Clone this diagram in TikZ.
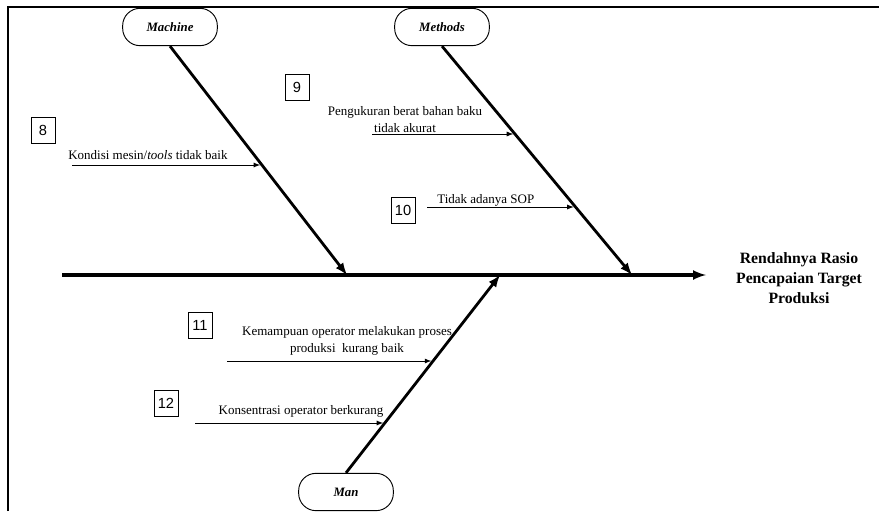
\documentclass[tikz,border=0pt]{standalone}
\usepackage{fontspec}
\setmainfont{Liberation Serif}
\newfontfamily\numfont{Liberation Sans}
\tikzset{
  >=latex,
}
\tikzstyle{frame}=[line width=1.5pt]
\tikzstyle{spine}=[line width=2.3pt,->]
\tikzstyle{bone}=[line width=2.1pt,->]
\tikzstyle{cause}=[line width=0.7pt,->,shorten >=1.5pt]
\tikzstyle{category}=[draw,line width=0.7pt,rounded corners=13pt,minimum width=71pt,minimum height=28pt,font=\fontsize{9.6}{11}\selectfont\bfseries\itshape]
\tikzstyle{numbox}=[draw,line width=0.6pt,minimum width=18pt,minimum height=19.5pt,inner sep=2pt,font=\numfont\fontsize{11}{13}\selectfont]
\tikzstyle{causetext}=[inner sep=0pt,align=center,font=\fontsize{9.75}{12.5}\selectfont]
\tikzstyle{effect}=[align=center,font=\fontsize{11.8}{15}\selectfont\bfseries]

\begin{document}
\begin{tikzpicture}[x=0.75pt,y=-0.75pt]
  \useasboundingbox (0,0) rectangle (879,511);
  \draw[frame] (8,511) -- (8,7) -- (879,7);
  % head and categories
  \node[category] (machine) at (170,27) {Machine};
  \node[category] (methods) at (442,27) {Methods};
  \node[category] (man) at (346,492) {Man};
  \node[effect] (effect) at (799,278) {Rendahnya Rasio\\Pencapaian Target\\Produksi};
  \coordinate (tail) at (62,275);
  \coordinate (head) at (706,275);
  \coordinate (j1) at (347,275);
  \coordinate (j2) at (632,275);
  \coordinate (j3) at (500,275);
  \draw[spine] (tail) -- (head);
  \draw[bone] (machine.south) -- (j1) coordinate[pos=.5207] (c8);
  \draw[bone] (methods.south) -- (j2) coordinate[pos=.3856] (c9)
    coordinate[pos=.7037] (c10);
  \draw[bone] (man.north) -- (j3) coordinate[pos=.5668] (c11)
    coordinate[pos=.2544] (c12);
  % causes
  \node[numbox] (b8) at (43,130) {8};
  \node[numbox] (b9) at (297,87) {9};
  \node[numbox] (b10) at (403,210) {10};
  \node[numbox] (b11) at (200,325) {11};
  \node[numbox] (b12) at (166,403) {12};
  \coordinate (s8) at (72,165);
  \coordinate (s9) at (372,134);
  \coordinate (s10) at (427,207);
  \coordinate (s11) at (227,361);
  \coordinate (s12) at (195,423);
  \draw[cause] (s8) -- (s8 -| c8);
  \draw[cause] (s9) -- (s9 -| c9);
  \draw[cause] (s10) -- (s10 -| c10);
  \draw[cause] (s11) -- (s11 -| c11);
  \draw[cause] (s12) -- (s12 -| c12);
  \node[causetext,anchor=base west] (t8) at (68,159) {Kondisi mesin/\textit{tools} tidak baik};
  \node[causetext,anchor=base] (t9) at (405,132) {Pengukuran berat bahan baku\\tidak akurat};
  \node[causetext,anchor=base west] (t10) at (437,203) {Tidak adanya SOP};
  \node[causetext,anchor=base] (t11) at (347,352) {Kemampuan operator melakukan proses\\produksi\ \ kurang baik};
  \node[causetext,anchor=base] (t12) at (301,414) {Konsentrasi operator berkurang};
\end{tikzpicture}
\end{document}
